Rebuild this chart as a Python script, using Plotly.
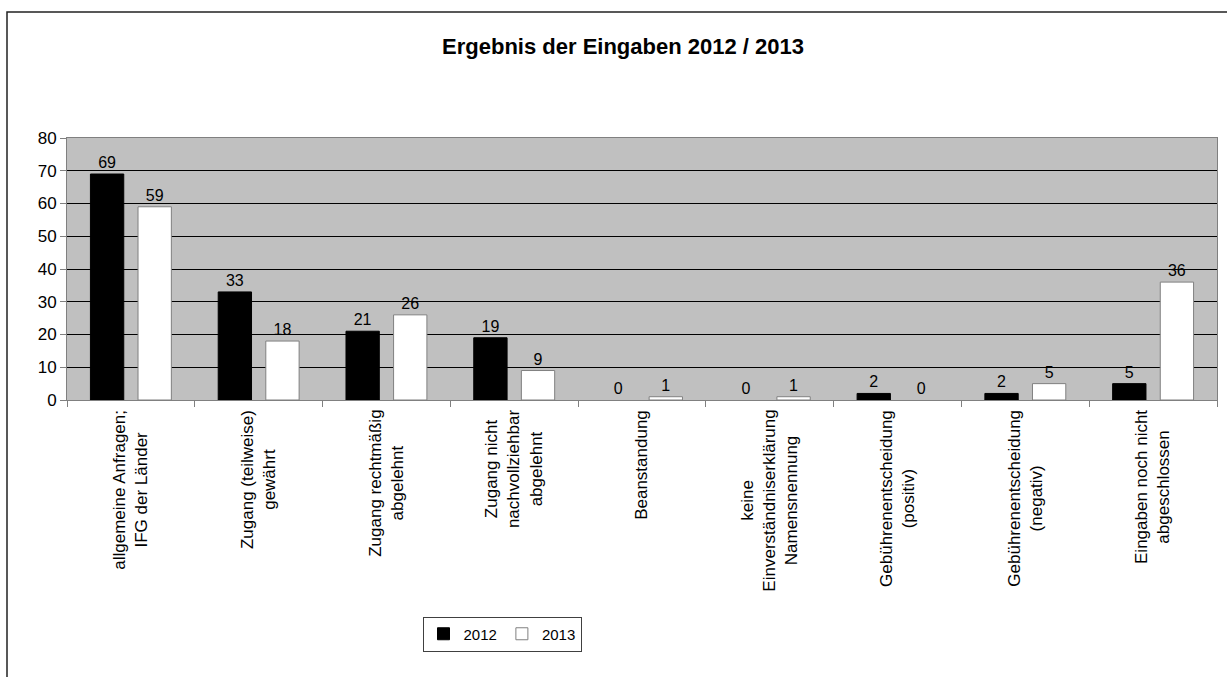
import plotly.graph_objects as go

categories = [
    "allgemeine Anfragen;<br>IFG der Länder",
    "Zugang (teilweise)<br>gewährt",
    "Zugang rechtmäßig<br>abgelehnt",
    "Zugang nicht<br>nachvollziehbar<br>abgelehnt",
    "Beanstandung",
    "keine<br>Einverständniserklärung<br>Namensnennung",
    "Gebührenentscheidung<br>(positiv)",
    "Gebührenentscheidung<br>(negativ)",
    "Eingaben noch nicht<br>abgeschlossen",
]
cat_ids = [f"c{i}" for i in range(len(categories))]
values_2012 = [69, 33, 21, 19, 0, 0, 2, 2, 5]
values_2013 = [59, 18, 26, 9, 1, 1, 0, 5, 36]
y_ticks = [0, 10, 20, 30, 40, 50, 60, 70, 80]

FONT = "Liberation Sans, Arial, sans-serif"

fig = go.Figure()
fig.add_trace(go.Bar(
    name="2012", x=cat_ids, y=values_2012,
    marker=dict(color="#000000",
                line=dict(color="#000000", width=[1 if v > 0 else 0 for v in values_2012])),
    text=[str(v) for v in values_2012], textposition="outside",
    textfont=dict(family=FONT, size=16, color="#000000"),
    constraintext="none", cliponaxis=False,
))
fig.add_trace(go.Bar(
    name="2013", x=cat_ids, y=values_2013,
    marker=dict(color="#ffffff",
                line=dict(color="#808080", width=[1 if v > 0 else 0 for v in values_2013])),
    text=[str(v) for v in values_2013], textposition="outside",
    textfont=dict(family=FONT, size=16, color="#000000"),
    constraintext="none", cliponaxis=False,
))

annotations = []
for cid, lab in zip(cat_ids, categories):
    annotations.append(dict(
        x=cid, xref="x", y=-0.03, yref="paper",
        text=lab, textangle=-90, showarrow=False,
        xanchor="center", yanchor="top", align="center",
        font=dict(family=FONT, size=17, color="#000000"),
    ))

fig.update_layout(
    width=1227, height=677,
    margin=dict(l=67, r=10, t=138, b=277),
    paper_bgcolor="#ffffff",
    plot_bgcolor="#c0c0c0",
    barmode="group",
    bargap=0.255,
    bargroupgap=0.3,
    font=dict(family=FONT, size=15, color="#000000"),
    title=dict(
        text="<b>Ergebnis der Eingaben 2012 / 2013</b>",
        x=623 / 1227, xref="container", xanchor="center",
        y=1 - 46 / 677, yref="container", yanchor="middle",
        font=dict(family=FONT, size=22, color="#000000"),
    ),
    xaxis=dict(
        type="category",
        showticklabels=False,
        tickson="boundaries",
        ticks="outside", ticklen=6, tickcolor="#808080",
        showline=True, linecolor="#808080", linewidth=1, mirror=True,
        showgrid=False,
    ),
    yaxis=dict(
        range=[0, 80],
        tickvals=y_ticks,
        ticks="outside", ticklen=6, tickcolor="#808080",
        showline=True, linecolor="#808080", linewidth=1, mirror=True,
        showgrid=True, gridcolor="#000000", gridwidth=1,
        zeroline=False,
        tickfont=dict(family=FONT, size=17, color="#000000"),
    ),
    legend=dict(
        orientation="h",
        x=(502 - 67) / 1150, xanchor="center",
        y=(400 - 634) / 262, yanchor="middle",
        bordercolor="#404040", borderwidth=1,
        bgcolor="#ffffff",
        font=dict(family=FONT, size=15, color="#000000"),
        itemwidth=30,
        tracegroupgap=0,
    ),
    annotations=annotations,
    shapes=[dict(
        type="rect", xref="paper", yref="paper",
        x0=(7 - 67) / 1150, x1=(1240 - 67) / 1150,
        y0=(400 - 690) / 262, y1=(400 - 12) / 262,
        line=dict(color="#222222", width=1.5),
        fillcolor="rgba(0,0,0,0)", layer="below",
    )],
)

fig.write_html("out.html", config={"displayModeBar": False},
               post_script="document.body.style.margin='0';")
